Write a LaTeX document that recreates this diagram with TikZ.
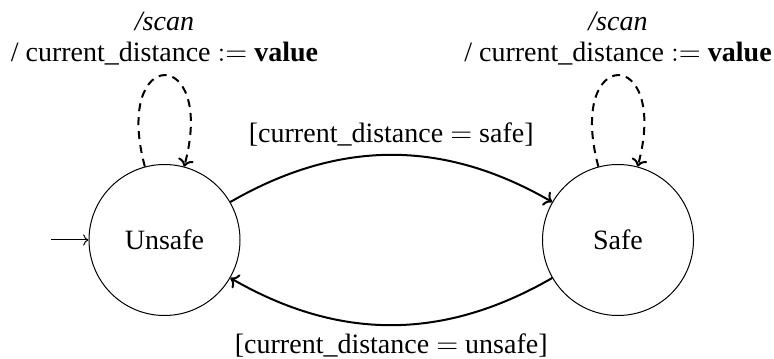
\documentclass[tikz,border=0pt]{standalone}
\usepackage{fontspec}
\setmainfont{Liberation Serif}
\usetikzlibrary{arrows.meta}
\begin{document}
\begin{tikzpicture}[x=0.5pt,y=0.5pt,
  every node/.style={font=\fontsize{14}{15.5}\selectfont},
  state/.style={draw, circle, line width=0.5pt, minimum size=75.5pt, inner sep=0pt},
  trans/.style={line width=1pt, ->},
  selfloop/.style={line width=1pt, dash pattern=on 4pt off 3pt, ->},
  lab/.style={align=center}]
\useasboundingbox (0,0) rectangle (774,358);
\node[state] (U) at (164.5,118) {Unsafe};
\node[state] (S) at (618,118) {Safe};
\coordinate (init) at (51,118);
\draw[line width=0.5pt,->] (init) -- (U);
\draw[trans] (U) to[bend left=30] node[above, inner sep=4pt] {[current\_distance $=$ safe]} (S);
\draw[trans] (S) to[bend left=30] node[below, inner sep=4pt] {[current\_distance $=$ unsafe]} (U);
\draw[selfloop] (U) to[out=105,in=75,distance=63pt] node[above, lab, inner sep=4.5pt] {\textit{/scan}\\ / current\_distance $:=$ \textbf{value}} (U);
\draw[selfloop] (S) to[out=105,in=75,distance=63pt] node[above, lab, inner sep=4.5pt] {\textit{/scan}\\ / current\_distance $:=$ \textbf{value}} (S);
\end{tikzpicture}
\end{document}
